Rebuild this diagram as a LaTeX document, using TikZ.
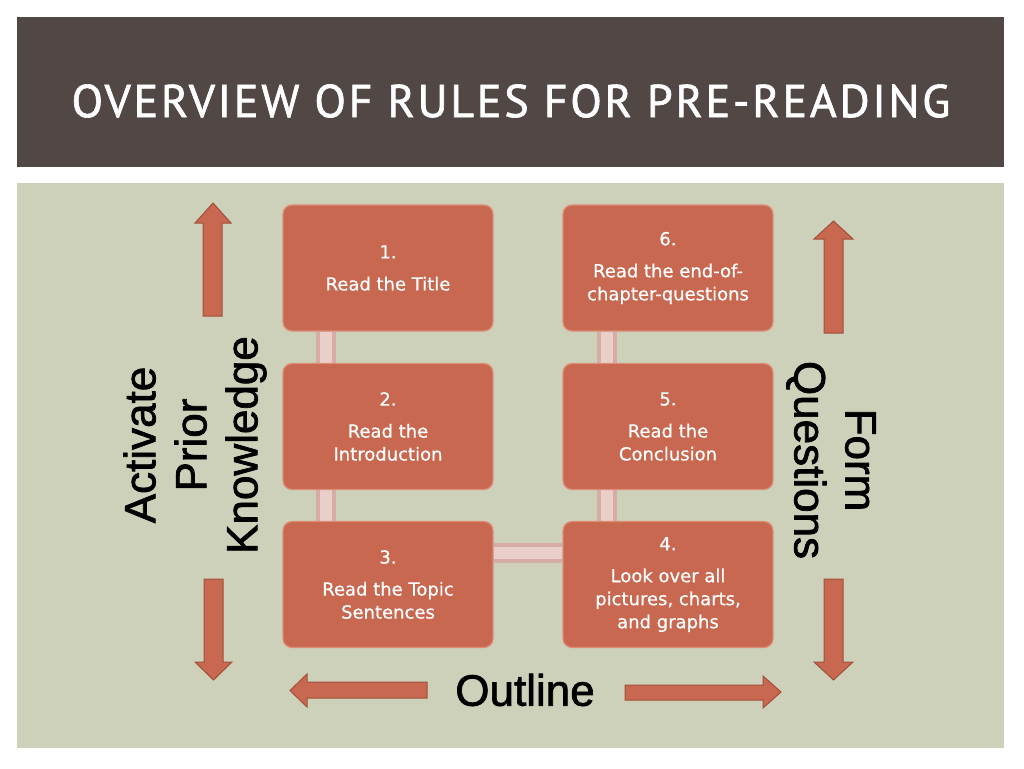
\documentclass[tikz,border=0pt]{standalone}
\usepackage{fontspec}
\setmainfont{DejaVu Sans}[FakeBold=0.6]
\newfontfamily\labelfont{Liberation Sans}[FakeBold=1.6]
\newfontfamily\titlefont[LetterSpace=6, FakeBold=1.4]{PT Sans}
\usetikzlibrary{backgrounds}
\pgfdeclarelayer{bars}
\pgfsetlayers{background,bars,main}

\definecolor{titlebrown}{RGB}{81,71,69}
\definecolor{panelgreen}{RGB}{205,209,185}
\definecolor{boxfill}{RGB}{200,104,80}
\definecolor{boxedge}{RGB}{222,140,118}
\definecolor{arrowedge}{RGB}{160,80,60}
\definecolor{barouter}{RGB}{214,172,166}
\definecolor{barinner}{RGB}{234,206,202}

\tikzset{
    stepbox/.style={draw=boxedge, fill=boxfill, line width=1.2pt, rounded corners=9pt,
        minimum width=210pt, minimum height=126pt, align=center, text=white,
        font=\fontsize{18}{23}\selectfont},
    bar/.style={draw=barouter, double=barinner, double distance=12pt, line width=4pt},
    blockarrow/.style={fill=boxfill, draw=arrowedge, line width=1pt, line join=miter},
    biglabel/.style={align=center, font=\labelfont\fontsize{44}{51}\selectfont},
}

\begin{document}
\begin{tikzpicture}[x=1pt, y=-1pt]
    \useasboundingbox (0,0) rectangle (1024,768);
    \begin{pgfonlayer}{background}
        \fill [white] (0,0) rectangle (1024,768);
        \fill [titlebrown] (17,17) rectangle (1004,167);
        \fill [panelgreen] (17,183) rectangle (1004,748);
    \end{pgfonlayer}
    \node [text=white, font=\titlefont\fontsize{46}{50}\selectfont] (title) at (511,101) {OVERVIEW OF RULES FOR PRE-READING};

    % steps
    \node [stepbox] (s1) at (388,268) {1.\\[9pt]Read the Title};
    \node [stepbox] (s2) at (388,426.5) {2.\\[9pt]Read the\\Introduction};
    \node [stepbox] (s3) at (388,584.5) {3.\\[9pt]Read the Topic\\Sentences};
    \node [stepbox] (s4) at (668,584.5) {4.\\[9pt]Look over all\\pictures, charts,\\and graphs};
    \node [stepbox] (s5) at (668,426.5) {5.\\[9pt]Read the\\Conclusion};
    \node [stepbox] (s6) at (668,268) {6.\\[9pt]Read the end-of-\\chapter-questions};

    \begin{pgfonlayer}{bars}
        \draw [bar] ([xshift=-62pt]s1.south) -- ([xshift=-62pt]s2.north);
        \draw [bar] ([xshift=-62pt]s2.south) -- ([xshift=-62pt]s3.north);
        \draw [bar] ([yshift=31.5pt]s3.east) -- ([yshift=31.5pt]s4.west);
        \draw [bar] ([xshift=-61pt]s4.north) -- ([xshift=-61pt]s5.south);
        \draw [bar] ([xshift=-61pt]s5.north) -- ([xshift=-61pt]s6.south);
    \end{pgfonlayer}

    % labels
    \node [biglabel, rotate=90] (prior) at (195,445) {Activate\\Prior\\Knowledge};
    \node [biglabel, rotate=-90] (questions) at (831,460) {Form\\Questions};
    \node [biglabel] (outline) at (525,690) {Outline};

    % block arrows
    \draw [blockarrow] (203,316) -- (203,223) -- (195,223) -- (213,203) -- (231,223) -- (222,223) -- (222,316) -- cycle;
    \draw [blockarrow] (204,579) -- (223,579) -- (223,662) -- (232,662) -- (213.5,680) -- (195,662) -- (204,662) -- cycle;
    \draw [blockarrow] (824,333) -- (824,239) -- (814,239) -- (833.5,221) -- (853,239) -- (843,239) -- (843,333) -- cycle;
    \draw [blockarrow] (824,579) -- (843,579) -- (843,662) -- (853,662) -- (833.5,680) -- (814,662) -- (824,662) -- cycle;
    \draw [blockarrow] (427,682) -- (307,682) -- (307,674) -- (290,690.5) -- (307,707) -- (307,698) -- (427,698) -- cycle;
    \draw [blockarrow] (625,685) -- (763,685) -- (763,676) -- (781,692) -- (763,708) -- (763,700) -- (625,700) -- cycle;
\end{tikzpicture}
\end{document}
